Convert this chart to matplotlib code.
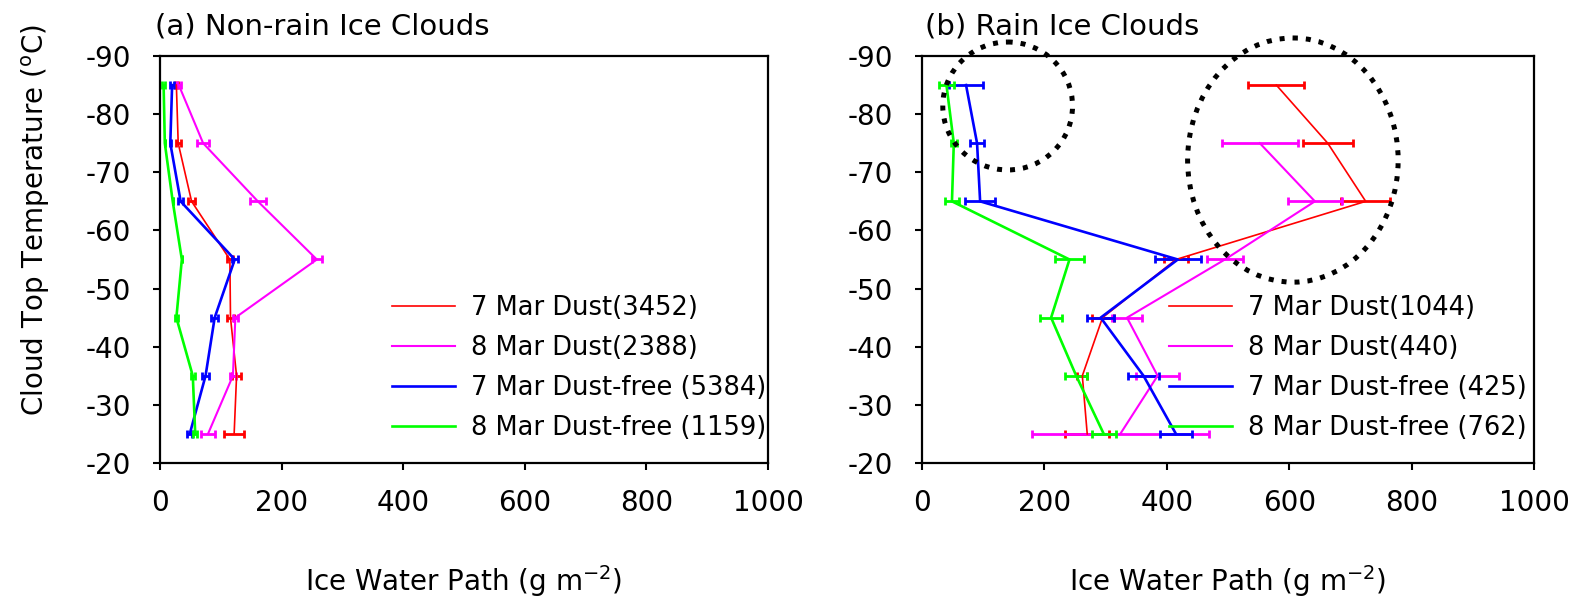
import numpy as np
import matplotlib
matplotlib.use("Agg")
import matplotlib.pyplot as plt
from matplotlib.patches import Ellipse

plt.rcParams["font.family"] = ["DejaVu Sans"]
plt.rcParams["axes.unicode_minus"] = False
plt.rcParams["mathtext.default"] = "regular"

# cloud top temperature levels (deg C)
temps = [-85, -75, -65, -55, -45, -35, -25]

# (a) non-rain ice clouds: mean IWP and spread
a_dust7 = [27, 30, 52, 115, 116, 126, 122]
a_dust7_err = [2, 4, 6, 5, 5, 8, 17]
a_dust8 = [31, 71, 161, 258, 124, 120, 79]
a_dust8_err = [3, 10, 13, 8, 4, 5, 11]
a_free7 = [20, 17, 34, 123, 90, 75, 49]
a_free7_err = [3, 1, 4, 5, 6, 6, 4]
a_free8 = [6, 8, 21, 36, 27, 54, 58]
a_free8_err = [3, 0, 0, 0, 3, 3, 3]

# (b) rain ice clouds (no 8 Mar dust sample at -85)
b_dust7 = [579, 663, 725, 415, 295, 262, 270]
b_dust7_err = [46, 41, 40, 20, 18, 8, 36]
temps_b8 = [-75, -65, -55, -45, -35, -25]
b_dust8 = [552, 642, 495, 335, 385, 324]
b_dust8_err = [62, 44, 30, 24, 35, 145]
b_free7 = [72, 90, 95, 418, 292, 362, 415]
b_free7_err = [28, 12, 25, 38, 22, 26, 26]
b_free8 = [40, 52, 49, 241, 211, 252, 297]
b_free8_err = [12, 5, 12, 24, 18, 18, 20]

labels_a = ["7 Mar Dust(3452)", "8 Mar Dust(2388)",
            "7 Mar Dust-free (5384)", "8 Mar Dust-free (1159)"]
labels_b = ["7 Mar Dust(1044)", "8 Mar Dust(440)",
            "7 Mar Dust-free (425)", "8 Mar Dust-free (762)"]

colors = ["#ff0000", "#ff00ff", "#0000ff", "#00ff00"]
widths = [1.2, 1.5, 1.9, 1.9]

fig = plt.figure(figsize=(15.79, 6.02), dpi=100)
ax1 = fig.add_axes([0.1013, 0.2309, 0.3851, 0.6761])
ax2 = fig.add_axes([0.5839, 0.2309, 0.3876, 0.6761])


def draw_panel(ax, series, labels, legend_xy):
    handles = []
    for (y, x, err), c, lw in zip(series, colors, widths):
        cont = ax.errorbar(x, y, xerr=err, color=c, lw=lw, elinewidth=2,
                           capsize=3.2, capthick=2)
        handles.append(cont.lines[0])
    ax.set_xlim(0, 1000)
    ax.set_ylim(-20, -90)
    ax.set_xticks(np.arange(0, 1001, 200))
    ax.set_yticks(np.arange(-90, -19, 10))
    ax.tick_params(axis="both", direction="out", length=5, width=1.5,
                   labelsize=20)
    ax.tick_params(axis="x", pad=14)
    ax.tick_params(axis="y", pad=16)
    for sp in ax.spines.values():
        sp.set_linewidth(1.6)
    ax.set_xlabel(r"Ice Water Path (g m$^{-2}$)", fontsize=20, labelpad=33)
    fig.legend(handles, labels, loc="upper left", bbox_to_anchor=legend_xy,
               frameon=False, fontsize=18.5, handlelength=2.45,
               handletextpad=0.62, labelspacing=0.55, borderpad=0,
               borderaxespad=0)


draw_panel(ax1, [(temps, a_dust7, a_dust7_err), (temps, a_dust8, a_dust8_err),
                 (temps, a_free7, a_free7_err), (temps, a_free8, a_free8_err)],
           labels_a, (0.2483, 0.510))
draw_panel(ax2, [(temps, b_dust7, b_dust7_err), (temps_b8, b_dust8, b_dust8_err),
                 (temps, b_free7, b_free7_err), (temps, b_free8, b_free8_err)],
           labels_b, (0.7403, 0.510))

ax1.set_ylabel(r"Cloud Top Temperature ($^{o}$C)", fontsize=20)
ax1.yaxis.set_label_coords(-0.178, 0.597)

fig.text(0.098, 0.942, "(a) Non-rain Ice Clouds", fontsize=21, va="baseline")
fig.text(0.586, 0.942, "(b) Rain Ice Clouds", fontsize=21, va="baseline")

# dotted rings highlighting the upper-level clusters in (b)
for cx, cy, rx, ry in [(140, -81.4, 106, 11.0), (606, -72.1, 172, 21.0)]:
    ax2.add_patch(Ellipse((cx, cy), 2 * rx, 2 * ry, fill=False, color="black",
                          lw=3.6, linestyle=(0, (1, 1.6)), clip_on=False,
                          zorder=5))

fig.savefig("out.png", dpi=100)
